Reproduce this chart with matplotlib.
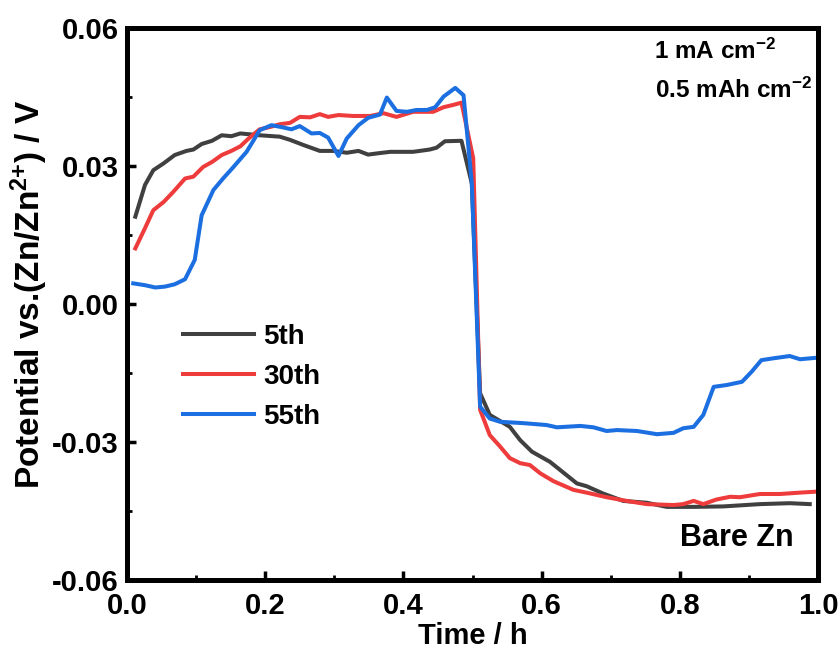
import numpy as np
import matplotlib.pyplot as plt

plt.rcParams['mathtext.fontset'] = 'custom'
plt.rcParams['mathtext.rm'] = 'Liberation Sans:bold'
plt.rcParams['mathtext.it'] = 'Liberation Sans:bold'
plt.rcParams['mathtext.bf'] = 'Liberation Sans:bold'
plt.rcParams['mathtext.default'] = 'rm'

# 5th cycle
t5 = [0.012, 0.026, 0.038, 0.053, 0.069, 0.086, 0.096, 0.108, 0.123, 0.137, 0.151, 0.164,
      0.192, 0.221, 0.236, 0.255, 0.279, 0.299, 0.318, 0.335, 0.349, 0.364, 0.381, 0.414,
      0.438, 0.448, 0.460, 0.484, 0.499, 0.511, 0.525, 0.554, 0.569, 0.586, 0.612, 0.627,
      0.651, 0.665, 0.689, 0.718, 0.752, 0.781, 0.820, 0.863, 0.916, 0.959, 0.988]
v5 = [0.0190, 0.0259, 0.0291, 0.0306, 0.0324, 0.0333, 0.0336, 0.0348, 0.0355, 0.0367, 0.0365, 0.0371,
      0.0367, 0.0364, 0.0357, 0.0346, 0.0333, 0.0333, 0.0329, 0.0333, 0.0325, 0.0328, 0.0331, 0.0331,
      0.0336, 0.0340, 0.0354, 0.0355, 0.0262, -0.0194, -0.0241, -0.0267, -0.0296, -0.0321, -0.0343, -0.0361,
      -0.0390, -0.0396, -0.0412, -0.0428, -0.0432, -0.0441, -0.0441, -0.0440, -0.0435, -0.0433, -0.0435]

# 30th cycle
t30 = [0.012, 0.026, 0.038, 0.053, 0.067, 0.084, 0.096, 0.110, 0.123, 0.137, 0.151, 0.164,
       0.176, 0.192, 0.207, 0.221, 0.236, 0.250, 0.265, 0.279, 0.291, 0.306, 0.327, 0.352,
       0.371, 0.390, 0.414, 0.443, 0.458, 0.472, 0.484, 0.501, 0.511, 0.525, 0.540, 0.554,
       0.569, 0.583, 0.598, 0.617, 0.646, 0.665, 0.694, 0.723, 0.752, 0.791, 0.805, 0.820,
       0.834, 0.853, 0.873, 0.887, 0.916, 0.945, 0.974, 0.996]
v30 = [0.0121, 0.0165, 0.0204, 0.0222, 0.0244, 0.0273, 0.0277, 0.0298, 0.0309, 0.0324, 0.0333, 0.0343,
       0.0360, 0.0380, 0.0385, 0.0391, 0.0394, 0.0407, 0.0406, 0.0413, 0.0407, 0.0411, 0.0409, 0.0409,
       0.0415, 0.0407, 0.0418, 0.0418, 0.0428, 0.0433, 0.0438, 0.0317, -0.0230, -0.0285, -0.0310, -0.0335,
       -0.0346, -0.0350, -0.0368, -0.0385, -0.0404, -0.0410, -0.0420, -0.0428, -0.0435, -0.0437, -0.0435, -0.0428,
       -0.0435, -0.0425, -0.0419, -0.0420, -0.0413, -0.0413, -0.0410, -0.0408]

# 55th cycle
t55 = [0.009, 0.026, 0.041, 0.055, 0.069, 0.084, 0.098, 0.108, 0.125, 0.139, 0.154, 0.173,
       0.192, 0.209, 0.226, 0.238, 0.250, 0.267, 0.279, 0.291, 0.306, 0.318, 0.335, 0.349,
       0.366, 0.376, 0.390, 0.405, 0.419, 0.434, 0.446, 0.458, 0.475, 0.487, 0.499, 0.511,
       0.525, 0.540, 0.574, 0.607, 0.622, 0.656, 0.675, 0.694, 0.709, 0.738, 0.767, 0.791,
       0.805, 0.820, 0.834, 0.849, 0.868, 0.890, 0.904, 0.918, 0.935, 0.959, 0.974, 0.996]
v55 = [0.0045, 0.0041, 0.0036, 0.0038, 0.0043, 0.0054, 0.0096, 0.0193, 0.0248, 0.0273, 0.0298, 0.0331,
       0.0378, 0.0389, 0.0384, 0.0380, 0.0387, 0.0371, 0.0372, 0.0362, 0.0322, 0.0360, 0.0389, 0.0405,
       0.0412, 0.0449, 0.0420, 0.0418, 0.0422, 0.0422, 0.0428, 0.0451, 0.0470, 0.0454, 0.0262, -0.0223,
       -0.0249, -0.0256, -0.0259, -0.0263, -0.0268, -0.0265, -0.0268, -0.0276, -0.0274, -0.0276, -0.0283, -0.0280,
       -0.0270, -0.0267, -0.0241, -0.0180, -0.0176, -0.0169, -0.0147, -0.0122, -0.0118, -0.0113, -0.0120, -0.0117]

x_ticks = [0.0, 0.2, 0.4, 0.6, 0.8, 1.0]
x_labels = ['0.0', '0.2', '0.4', '0.6', '0.8', '1.0']
y_ticks = [-0.06, -0.03, 0.0, 0.03, 0.06]
y_labels = ['-0.06', '-0.03', '0.00', '0.03', '0.06']

fig = plt.figure(figsize=(8.39, 6.57), dpi=100)
ax = fig.add_axes([0.1514, 0.1172, 0.8236, 0.8400])

ax.plot(t5, v5, color='#404040', lw=2.9, label='5th')
ax.plot(t30, v30, color='#ee3b3b', lw=2.9, label='30th')
ax.plot(t55, v55, color='#1c6fe0', lw=2.9, label='55th')

ax.set_xlim(0, 1.0)
ax.set_ylim(-0.06, 0.06)
ax.set_xticks(x_ticks)
ax.set_yticks(y_ticks)
ax.set_xticklabels(x_labels)
ax.set_yticklabels(y_labels)
ax.set_xticks(np.arange(0.1, 1.0, 0.2), minor=True)
ax.set_yticks([-0.045, -0.015, 0.015, 0.045], minor=True)
ax.tick_params(which='major', direction='in', length=6.5, width=2.5, top=False, right=False)
ax.tick_params(which='minor', direction='in', length=3.5, width=2.0, top=False, right=False)
for lab in ax.get_xticklabels() + ax.get_yticklabels():
    lab.set_family('Liberation Sans')
    lab.set_fontweight('bold')
    lab.set_fontsize(21)
ax.tick_params(axis='x', pad=9)
ax.tick_params(axis='y', pad=6)
for s in ax.spines.values():
    s.set_linewidth(3.6)

ax.set_xlabel('Time / h', family='Liberation Sans', fontweight='bold', fontsize=21)
ax.xaxis.set_label_coords(0.5, -0.077)
ax.set_ylabel(r'Potential vs.(Zn/Zn$^{2{+}}$) / V', family='Liberation Sans', fontweight='bold',
              fontsize=24)
ax.yaxis.set_label_coords(-0.111, 0.517)

ax.text(0.939, 0.98, r'1 mA cm$^{-2}$', transform=ax.transAxes, ha='right', va='top',
        family='Liberation Sans', fontweight='bold', fontsize=17.5)
ax.text(0.992, 0.911, r'0.5 mAh cm$^{-2}$', transform=ax.transAxes, ha='right', va='top',
        family='Liberation Sans', fontweight='bold', fontsize=17.5)
ax.text(0.964, 0.076, 'Bare Zn', transform=ax.transAxes, ha='right', va='center',
        family='Liberation Sans', fontweight='bold', fontsize=22)

leg = ax.legend(loc='upper left', bbox_to_anchor=(0.065, 0.484), frameon=False,
                prop={'family': 'Liberation Sans', 'weight': 'bold', 'size': 20},
                handlelength=2.55, labelspacing=0.5, handletextpad=0.35, borderaxespad=0)

fig.savefig('out.png', dpi=100)
